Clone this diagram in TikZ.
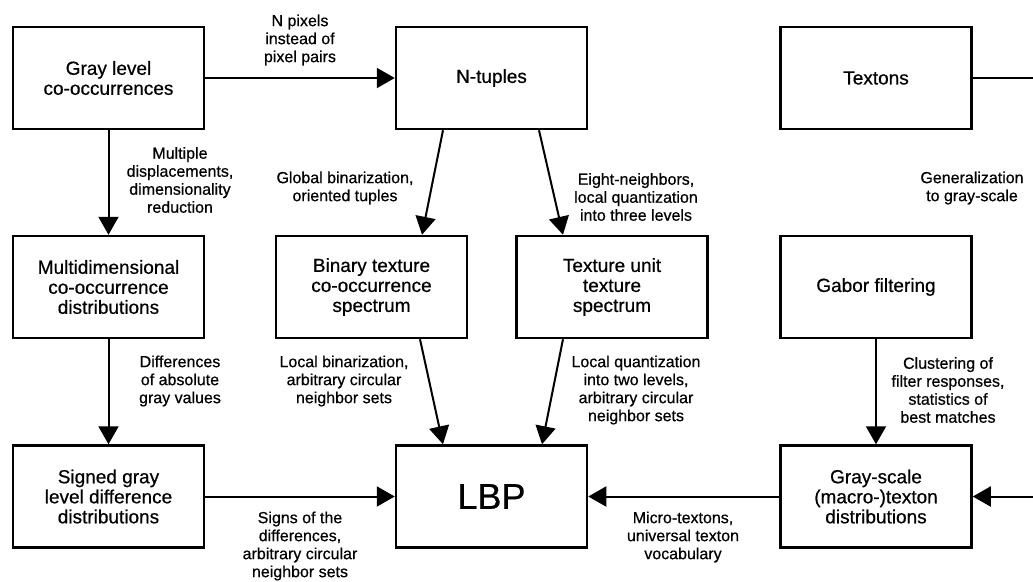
\documentclass[tikz,border=0pt]{standalone}
\usepackage{fontspec}
\setmainfont[FakeBold=0.6]{Liberation Sans}
\usetikzlibrary{arrows.meta,calc}
\begin{document}
\begin{tikzpicture}[x=1pt,y=-1pt,
  box/.style={draw,line width=2.5pt,minimum width=191pt,minimum height=102pt,
    align=center,inner sep=2pt,font=\fontsize{19}{20}\selectfont},
  lbl/.style={align=center,inner sep=0pt,font=\fontsize{16}{18}\selectfont},
  conn/.style={line width=2pt,-{Triangle[length=18pt,width=20pt]}},
  plain/.style={line width=2pt}]
\useasboundingbox (0,0) rectangle (1033,581);
% boxes
\node[box] (glc) at (108.5,78) {Gray level\\co-occurrences};
\node[box] (nt) at (491.5,78) {N-tuples};
\node[box] (tx) at (876,78) {Textons};
\node[box] (md) at (108.5,287) {Multidimensional\\co-occurrence\\distributions};
\node[box] (bin) at (371.5,287) {Binary texture\\co-occurrence\\spectrum};
\node[box] (tu) at (612,287) {Texture unit\\texture\\spectrum};
\node[box] (gab) at (876,287) {Gabor filtering};
\node[box] (sg) at (108.5,496.5) {Signed gray\\level difference\\distributions};
\node[box,font=\fontsize{36}{40}\selectfont] (lbp) at (491.5,496.5) {LBP};
\node[box] (gs) at (876,496.5) {Gray-scale\\(macro-)texton\\distributions};
% free ends at the right edge
\coordinate (txout) at (1034,78);
\coordinate (gsin) at (1034,496.5);
% connectors
\draw[conn] (glc) -- (nt);
\draw[conn] (glc) -- (md);
\draw[conn] (md) -- (sg);
\draw[conn] (sg) -- (lbp);
\draw[conn] (gab) -- (gs);
\draw[conn] (gs) -- (lbp);
\draw[plain] (tx.east) -- (txout);
\draw[conn] (gsin) -- (gs.east);
\draw[conn] ([xshift=-48.5pt]nt.south) -- ([xshift=50.5pt]bin.north);
\draw[conn] ([xshift=47.5pt]nt.south) -- ([xshift=-49pt]tu.north);
\draw[conn] ([xshift=48.5pt]bin.south) -- ([xshift=-48.5pt]lbp.north);
\draw[conn] ([xshift=-49pt]tu.south) -- ([xshift=50.5pt]lbp.north);
% labels
\node[lbl] (l1) at (300,40) {N pixels\\instead of\\pixel pairs};
\node[lbl] (l2) at (180,180) {Multiple\\displacements,\\dimensionality\\reduction};
\node[lbl] (l3) at (345,188) {Global binarization,\\oriented tuples};
\node[lbl] (l4) at (636,197) {Eight-neighbors,\\local quantization\\into three levels};
\node[lbl] (l5) at (972,188) {Generalization\\to gray-scale};
\node[lbl] (l6) at (180,381) {Differences\\of absolute\\gray values};
\node[lbl] (l7) at (344,381) {Local binarization,\\arbitrary circular\\neighbor sets};
\node[lbl] (l8) at (636,390) {Local quantization\\into two levels,\\arbitrary circular\\neighbor sets};
\node[lbl] (l9) at (948,390) {Clustering of\\filter responses,\\statistics of\\best matches};
\node[lbl] (l10) at (300,546) {Signs of the\\differences,\\arbitrary circular\\neighbor sets};
\node[lbl] (l11) at (683,537) {Micro-textons,\\universal texton\\vocabulary};
\end{tikzpicture}
\end{document}
